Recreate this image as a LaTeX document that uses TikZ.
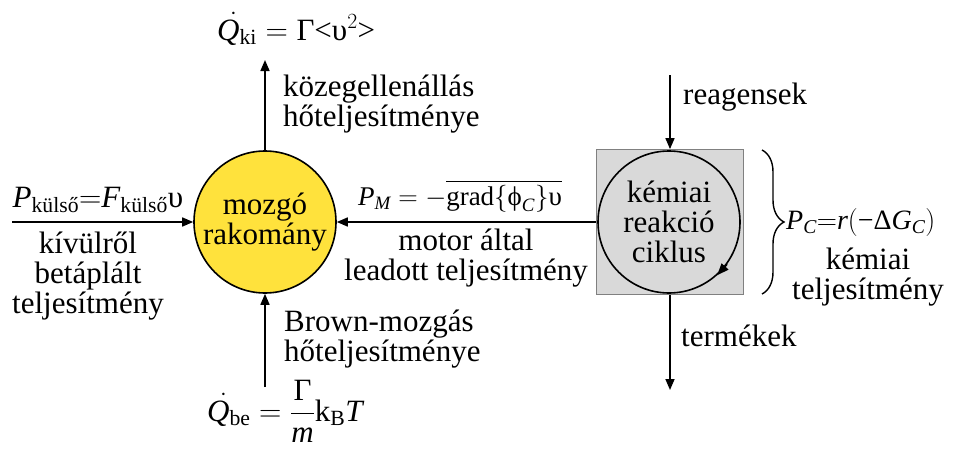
\RequirePackage{fix-cm}
\documentclass[tikz,border=0pt]{standalone}
\usepackage{amsmath}
\usepackage{fontspec}
\setmainfont{Liberation Serif}
\usetikzlibrary{arrows.meta,decorations.pathreplacing}
\definecolor{cargofill}{HTML}{FFE23C}
\definecolor{boxfill}{HTML}{D9D9D9}
\definecolor{boxline}{HTML}{808080}
\newcommand{\tv}[1]{\text{\itshape #1}}

\begin{document}
\begin{tikzpicture}[x=1pt,y=-1pt,font=\fontsize{31}{30}\selectfont,
  flow/.style={-{Triangle[length=11pt,width=9pt]},line width=1.6pt},
  lbl/.style={align=center,inner sep=0pt}]
  \useasboundingbox (0,0) rectangle (956,450);
  % cargo and the motor cycle
  \node[circle, draw, line width=1.6pt, fill=cargofill, minimum size=142pt, inner sep=0pt, lbl] (cargo) at (265,222) {mozgó\\rakomány};
  \node[draw=boxline, fill=boxfill, line width=0.8pt, minimum width=147pt, minimum height=145pt, inner sep=0pt] (box) at (670,222) {};
  \node[circle, draw, line width=1.6pt, minimum size=142pt, inner sep=0pt, lbl] (cyc) at (669,222) {kémiai\\reakció\\ciklus};
  \draw[-{Triangle[length=12pt,width=9pt]}, line width=1.6pt] (cyc.-36) -- (cyc.-48);
  % free ends
  \coordinate (extin) at (12,222);
  \coordinate (qout) at (265,60);
  \coordinate (qin) at (265,387);
  \coordinate (reag) at (670,75);
  \coordinate (term) at (670,390);
  \draw[flow] (extin) -- (cargo.west);
  \draw[flow] (box.west) -- (cargo.east);
  \draw[flow] (cargo.north) -- (qout);
  \draw[flow] (qin) -- (cargo.south);
  \draw[flow] (reag) -- (box.north);
  \draw[flow] (box.south) -- (term);
  \draw[decorate, decoration={brace, amplitude=22pt}, line width=1.4pt] (762,150) -- (762,294);
  % labels
  \node[lbl] (pext) at (98,200) {$\tv{P}_{\text{külső}}{=}\tv{F}_{\text{külső}}\text{υ}$};
  \node[lbl] (extlbl) at (88,276) {kívülről\\betáplált\\teljesítmény};
  \node[lbl, font=\fontsize{27}{30}\selectfont] (pm) at (460,196) {$\tv{P}_{\tv{M}} = -\overline{\text{grad}\{\text{ϕ}_{\tv{C}}\}\text{υ}}$};
  \node[lbl] (pmlbl) at (466,258) {motor által\\leadott teljesítmény};
  \node[lbl, anchor=base west] (qki) at (217,40) {$\skew{6}{\dot}{\tv{Q}}_{\text{ki}} = \text{Γ<υ}^{2}\text{>}$};
  \node[lbl, anchor=west, align=left] (qkilbl) at (283,104) {közegellenállás\\hőteljesítménye};
  \node[lbl, anchor=west, align=left] (qbelbl) at (284,339) {Brown-mozgás\\hőteljesítménye};
  \node[lbl, anchor=west] (qbe) at (207,411) {$\skew{6}{\dot}{\tv{Q}}_{\text{be}} = \dfrac{\text{Γ}}{\tv{m}}\text{k}_{\text{B}}\tv{T}$};
  \node[lbl, anchor=west] (reaglbl) at (683,97) {reagensek};
  \node[lbl, anchor=west] (termlbl) at (681,336) {termékek};
  \node[lbl, anchor=west, font=\fontsize{28}{30}\selectfont] (pc) at (786,222) {$\tv{P}_{\tv{C}}{=}\tv{r}(\text{−Δ}\tv{G}_{\tv{C}})$};
  \node[lbl] (pclbl) at (868,277) {kémiai\\teljesítmény};
\end{tikzpicture}
\end{document}
